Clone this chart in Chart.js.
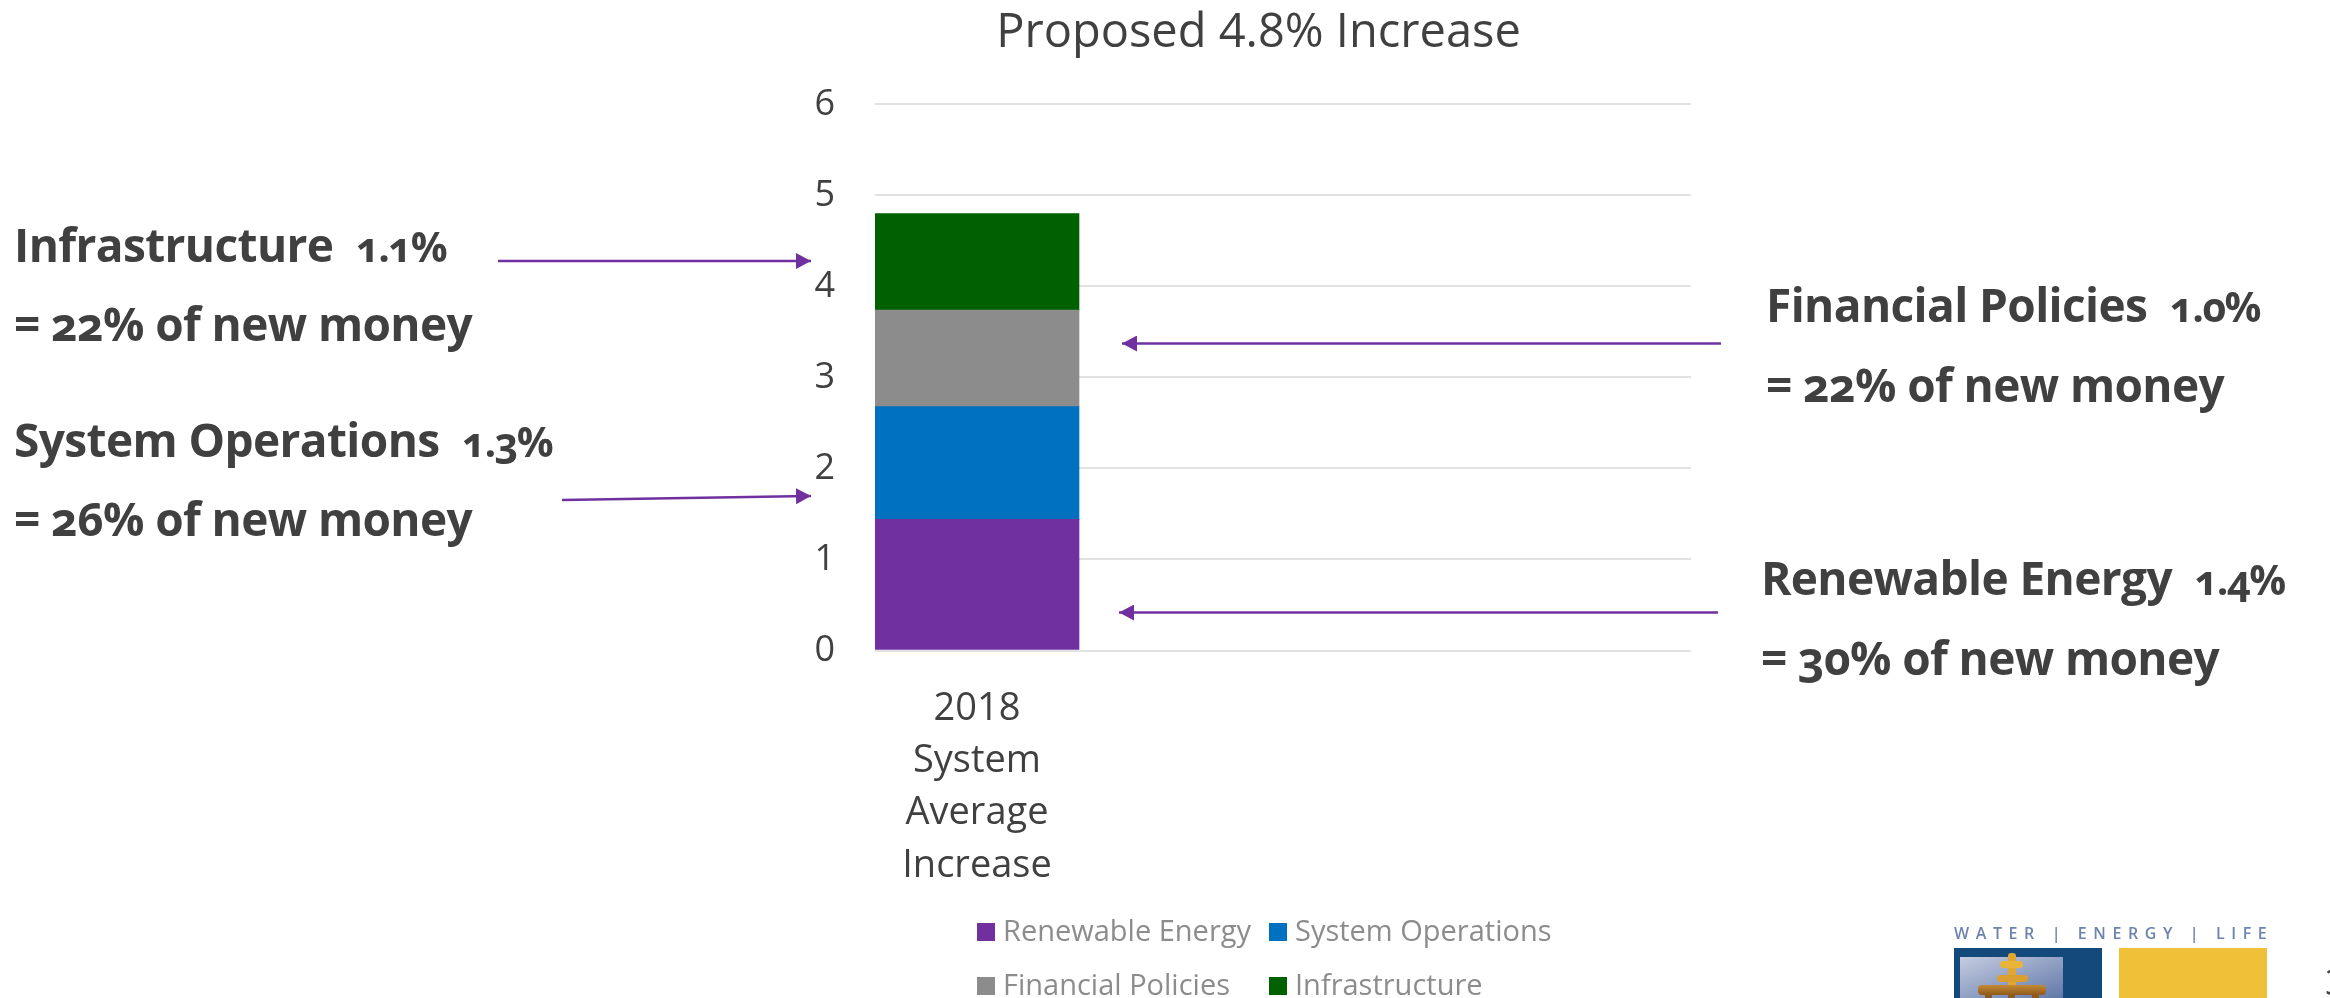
<!DOCTYPE html>
<html><head><meta charset="utf-8">
<script src="https://cdn.jsdelivr.net/npm/chart.js@4"></script>
<style>
html,body{margin:0;padding:0;background:#fff;width:2330px;height:998px;overflow:hidden;font-family:"Open Sans",sans-serif;}
#wrap{position:relative;width:2330px;height:998px;overflow:hidden;}
canvas{position:absolute;left:0;top:0;}
.note{position:absolute;white-space:nowrap;font-weight:700;font-size:46px;line-height:60px;color:#404040;font-variant-numeric:oldstyle-nums;letter-spacing:-0.6px;transform:translateY(-50%);}
.note small{font-size:41px;font-weight:700;letter-spacing:-1.5px;}
svg{position:absolute;left:0;top:0;}
.leg{position:absolute;font-size:29px;color:#8c8c8c;line-height:36px;white-space:nowrap;transform:translateY(-50%);}
.leg i{display:inline-block;width:18px;height:18px;margin-right:8px;}
#lt{position:absolute;left:1954px;top:924px;width:313px;font-size:16px;line-height:18px;font-weight:600;color:#6d84ad;white-space:nowrap;display:flex;justify-content:space-between;}
#pg{position:absolute;left:2325px;top:960px;font-size:36px;line-height:44px;color:#404040;}
</style></head><body>
<div id="wrap">
<canvas id="c" width="2330" height="998"></canvas>
<svg width="2330" height="998" viewBox="0 0 2330 998">
<defs>
<marker id="ah" markerUnits="userSpaceOnUse" markerWidth="16" markerHeight="16" refX="15" refY="8" orient="auto"><path d="M0 0L15 8L0 16Z" fill="#7030a0"/></marker>
<linearGradient id="pn" x1="0" y1="0" x2="1" y2="1"><stop offset="0" stop-color="#c5cce0"/><stop offset="1" stop-color="#6078a8"/></linearGradient>
<linearGradient id="bm" x1="0" y1="0" x2="0" y2="1"><stop offset="0" stop-color="#c58a35"/><stop offset="1" stop-color="#8f5a1c"/></linearGradient>
</defs>
<g stroke="#7030a0" stroke-width="2.5" fill="none">
<line x1="498" y1="261" x2="811" y2="261" marker-end="url(#ah)"/>
<line x1="562" y1="500" x2="811" y2="496" marker-end="url(#ah)"/>
<line x1="1721" y1="343.5" x2="1122" y2="343.5" marker-end="url(#ah)"/>
<line x1="1718" y1="612.5" x2="1119" y2="612.5" marker-end="url(#ah)"/>
</g>
<rect x="1954" y="948" width="148" height="50" fill="#13497b"/>
<rect x="1960" y="957" width="103" height="41" fill="url(#pn)"/>
<rect x="2119" y="948" width="148" height="50" fill="#f0c038"/>
<rect x="2008" y="953" width="8" height="35" rx="3" fill="#e0a830"/>
<rect x="2000" y="961" width="23" height="7" rx="3.5" fill="#e8b53a"/>
<rect x="1997" y="975" width="31" height="7" rx="3.5" fill="#d99f30"/>
<rect x="1985" y="994" width="7" height="4" fill="#8f5a1c"/>
<rect x="2008" y="994" width="7" height="4" fill="#8f5a1c"/>
<rect x="2032" y="994" width="7" height="4" fill="#8f5a1c"/>
<rect x="1978" y="985" width="68" height="10" rx="4" fill="url(#bm)"/>
</svg>
<div class="note" style="left:14px;top:245px">Infrastructure &nbsp;<small>1.1%</small></div>
<div class="note" style="left:14px;top:323px">= 22% of new money</div>
<div class="note" style="left:14px;top:440px">System Operations &nbsp;<small>1.3%</small></div>
<div class="note" style="left:14px;top:518px">= 26% of new money</div>
<div class="note" style="left:1766px;top:305px">Financial Policies &nbsp;<small>1.0%</small></div>
<div class="note" style="left:1766px;top:384px">= 22% of new money</div>
<div class="note" style="left:1761px;top:578px">Renewable Energy &nbsp;<small>1.4%</small></div>
<div class="note" style="left:1761px;top:657px">= 30% of new money</div>
<div id="legend"></div>
<div id="lt"><span>W</span><span>A</span><span>T</span><span>E</span><span>R</span><span>&nbsp;</span><span>|</span><span>&nbsp;</span><span>E</span><span>N</span><span>E</span><span>R</span><span>G</span><span>Y</span><span>&nbsp;</span><span>|</span><span>&nbsp;</span><span>L</span><span>I</span><span>F</span><span>E</span></div>
<div id="pg">3</div>
</div>
<script>
const categories = [["2018","System","Average","Increase"], "", "", ""];
const yTicks = [0,1,2,3,4,5,6];
const renewableEnergy = [1.44];
const systemOperations = [1.24];
const financialPolicies = [1.06];
const infrastructure = [1.06];
const seriesNames = ["Renewable Energy","System Operations","Financial Policies","Infrastructure"];
const seriesColors = ["#7030a0","#0070c0","#8c8c8c","#006100"];
const titleText = "Proposed 4.8% Increase";
const font = '"Open Sans",sans-serif';

const chart = new Chart(document.getElementById('c'), {
  type:'bar',
  data:{labels:categories,datasets:[renewableEnergy,systemOperations,financialPolicies,infrastructure].map((d,i)=>({
    label:seriesNames[i],data:d,backgroundColor:seriesColors[i],borderWidth:0,categoryPercentage:1,barPercentage:1
  }))},
  plugins:[{id:'titleShift',afterLayout(c){c.titleBlock.left+=23;c.titleBlock.right+=23;}}],
  options:{
    responsive:false,animation:false,devicePixelRatio:1,
    layout:{padding:{left:780,right:639,top:0,bottom:0}},
    plugins:{
      title:{display:true,text:titleText,color:'#404040',font:{family:font,size:47,weight:'400',lineHeight:1.2},padding:{top:5,bottom:43}},
      legend:{display:false},tooltip:{enabled:false}
    },
    scales:{
      x:{stacked:true,grid:{display:false},border:{display:false},
        afterFit:s=>{s.height=347.5;},
        ticks:{color:'#404040',font:{family:font,size:38,lineHeight:1.37},padding:25,maxRotation:0,autoSkip:false}},
      y:{stacked:true,min:0,max:6,afterFit:s=>{s.width=95;},
        afterBuildTicks:s=>{s.ticks=yTicks.map(v=>({value:v}));},
        grid:{color:'#e2e2e2',lineWidth:2,drawTicks:false},border:{display:false},
        ticks:{color:'#404040',font:{family:font,size:36},padding:40}}
    }
  }
});
// legend built from the chart's own datasets
const legendBox=document.getElementById('legend');
const cols=[977,1269], rows=[930,984];
chart.data.datasets.forEach((ds,i)=>{
  const el=document.createElement('div');el.className='leg';
  el.style.left=cols[i%2]+'px';el.style.top=rows[i>>1]+'px';
  el.innerHTML='<i style="background:'+ds.backgroundColor+'"></i>'+ds.label;
  legendBox.appendChild(el);
});
</script>
</body></html>
